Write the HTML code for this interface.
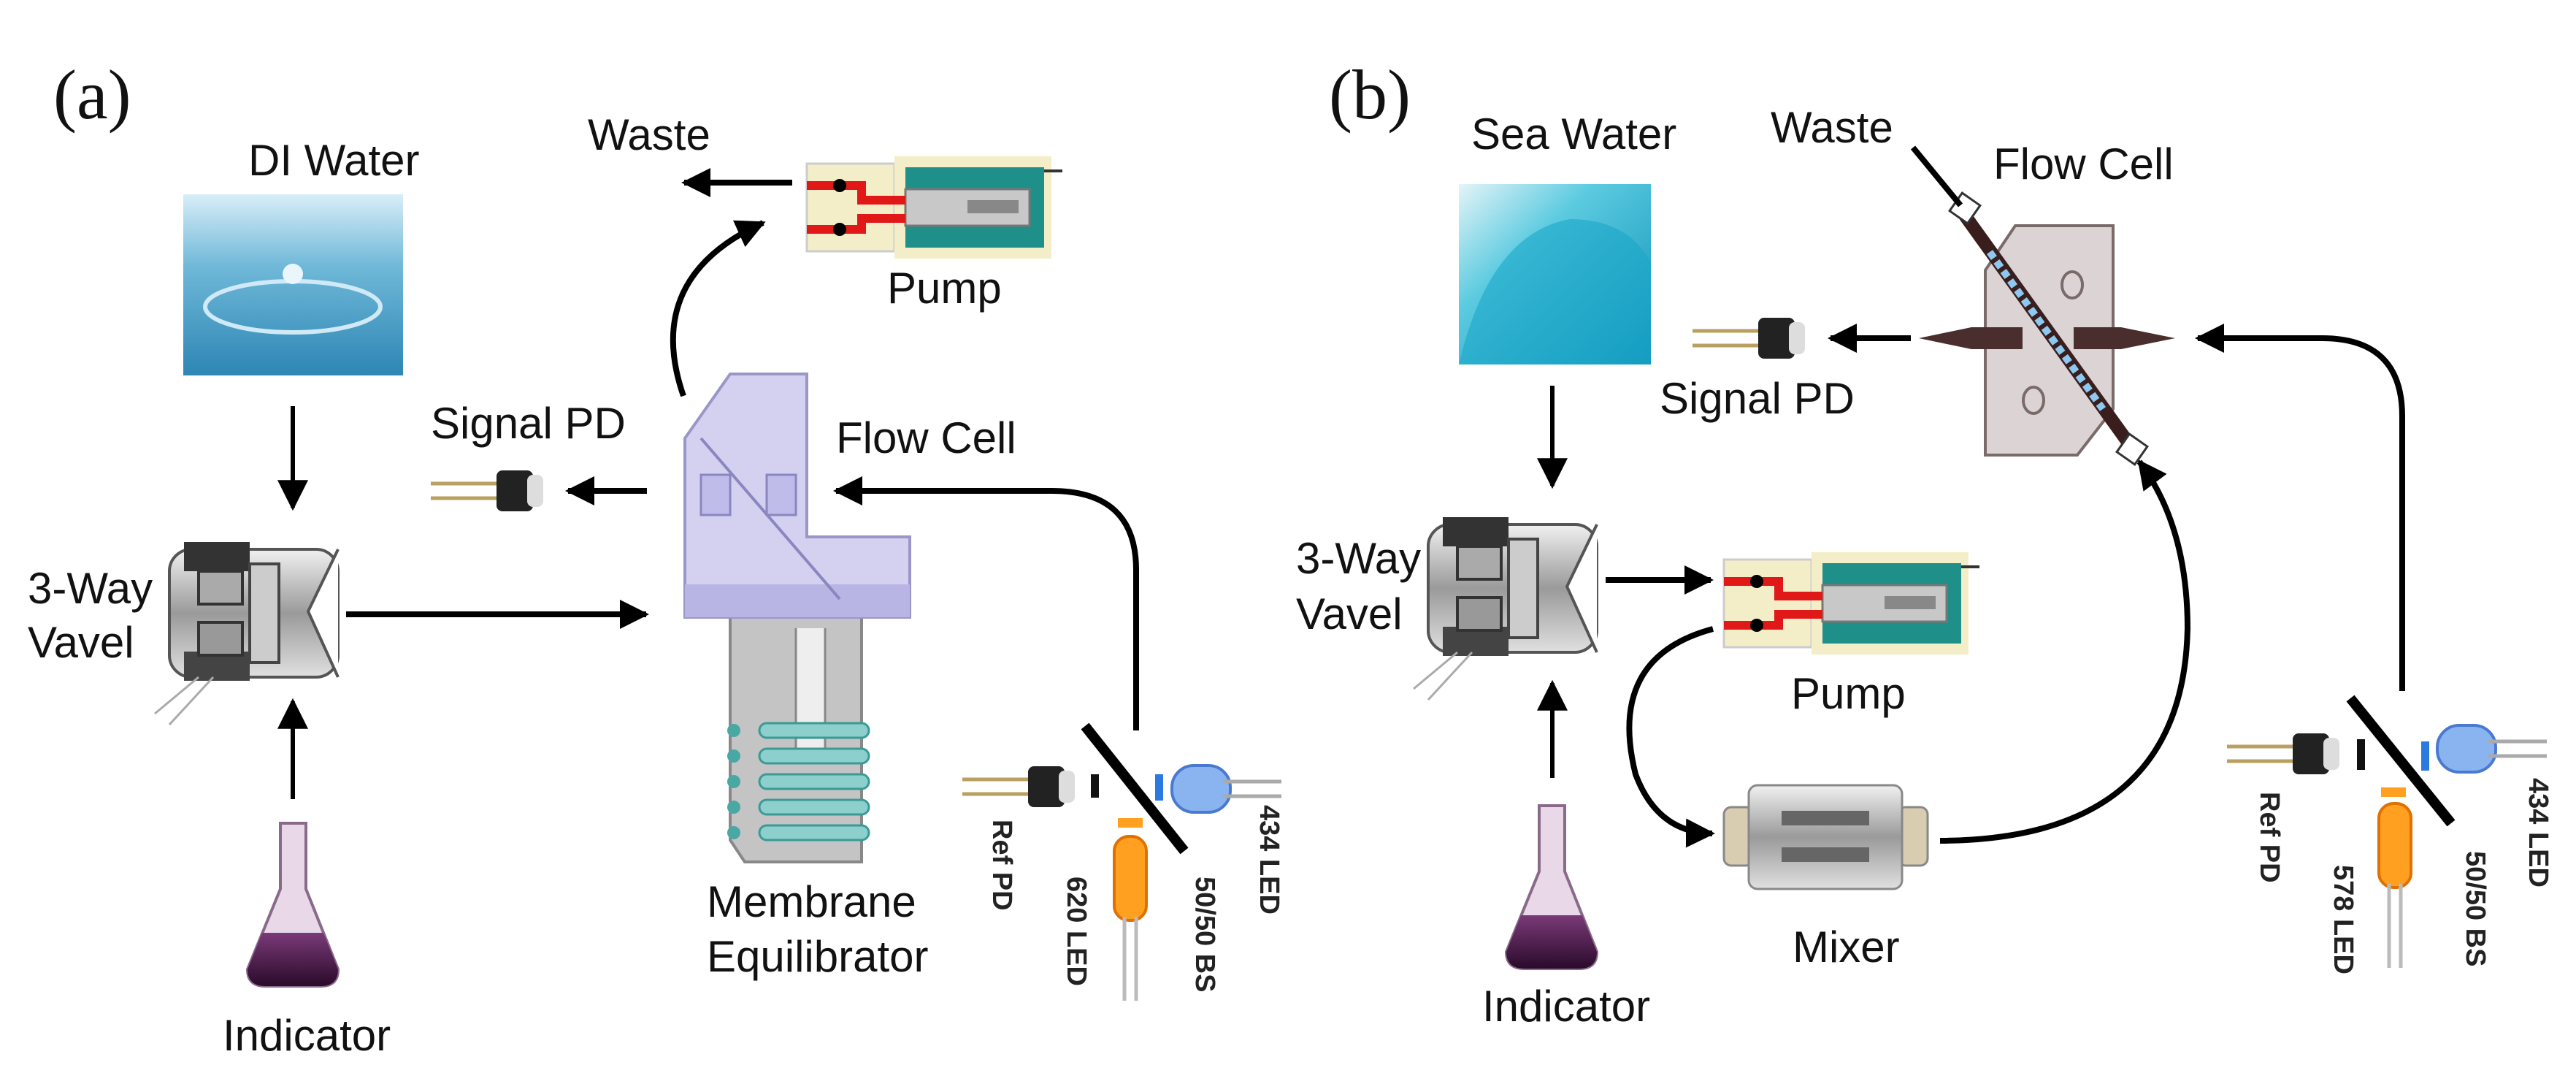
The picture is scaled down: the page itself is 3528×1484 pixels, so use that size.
<!DOCTYPE html>
<html><head><meta charset="utf-8"><style>
html,body{margin:0;padding:0;background:#fff}
svg{display:block}
text{font-family:"Liberation Sans",Arial,sans-serif;fill:#111}
.l{font-size:60px}
.s{font-family:"Liberation Serif",serif;font-size:96px}
.r{font-size:38px;font-weight:bold;fill:#222}
</style></head><body>
<svg width="3528" height="1484" viewBox="0 0 3528 1484" xmlns="http://www.w3.org/2000/svg">
<defs>
<marker id="ah" viewBox="0 0 10 10" refX="9" refY="5" markerWidth="5" markerHeight="5" orient="auto-start-reverse" markerUnits="strokeWidth">
<path d="M0,0 L10,5 L0,10 z" fill="#000"/></marker>
<marker id="ah2" viewBox="0 0 10 10" refX="9" refY="5" markerWidth="7" markerHeight="7" orient="auto" markerUnits="strokeWidth">
<path d="M0,0 L10,5 L0,10 z" fill="#000"/></marker>
<linearGradient id="wat" x1="0" y1="0" x2="0" y2="1"><stop offset="0" stop-color="#d8eef8"/><stop offset="0.4" stop-color="#6fb8d8"/><stop offset="1" stop-color="#2d86b4"/></linearGradient>
<linearGradient id="sea" x1="0" y1="0" x2="1" y2="1"><stop offset="0" stop-color="#e4f4f8"/><stop offset="0.35" stop-color="#5ccbe0"/><stop offset="1" stop-color="#0b8fb8"/></linearGradient>
<linearGradient id="met" x1="0" y1="0" x2="0" y2="1"><stop offset="0" stop-color="#f0f0f0"/><stop offset="0.5" stop-color="#9a9a9a"/><stop offset="1" stop-color="#e0e0e0"/></linearGradient>
<linearGradient id="liq" x1="0" y1="0" x2="0" y2="1"><stop offset="0" stop-color="#7a3a78"/><stop offset="1" stop-color="#2a0a2a"/></linearGradient>
<g id="valve">
<rect x="0" y="10" width="231" height="175" rx="30" fill="url(#met)" stroke="#555" stroke-width="4"/>
<rect x="20" y="0" width="90" height="40" fill="#333"/>
<rect x="20" y="150" width="90" height="40" fill="#444"/>
<rect x="40" y="40" width="60" height="45" fill="#aaa" stroke="#333" stroke-width="4"/>
<rect x="40" y="110" width="60" height="45" fill="#999" stroke="#333" stroke-width="4"/>
<rect x="110" y="30" width="40" height="135" fill="#ccc" stroke="#444" stroke-width="4"/>
<path d="M231,10 L190,95 L231,185" fill="#fff" stroke="#555" stroke-width="4"/>
<path d="M40,185 L-20,235 M60,185 L0,250" stroke="#aaa" stroke-width="3" fill="none"/>
</g>
<g id="flask">
<path d="M45,0 L80,0 L80,90 L124,200 Q124,223 100,223 L25,223 Q0,223 0,200 L45,90 Z" fill="#e8d8e8" stroke="#8a6a8a" stroke-width="4"/>
<path d="M20,150 L104,150 L124,200 Q124,223 100,223 L25,223 Q0,223 0,200 Z" fill="url(#liq)"/>
</g>
<g id="pump">
<rect x="0" y="10" width="120" height="120" fill="#f4eec8" stroke="#ccc" stroke-width="3"/>
<rect x="120" y="0" width="215" height="140" fill="#f4eec8"/>
<rect x="135" y="15" width="190" height="110" fill="#1f8f8a"/>
<rect x="135" y="45" width="170" height="50" fill="#c8c8c8" stroke="#777" stroke-width="3"/>
<rect x="220" y="60" width="70" height="18" fill="#888"/>
<path d="M0,40 L75,40 L75,60 L135,60 M0,100 L75,100 L75,85 L135,85" stroke="#e01818" stroke-width="12" fill="none"/>
<circle cx="45" cy="40" r="9" fill="#000"/><circle cx="45" cy="100" r="9" fill="#000"/>
<line x1="325" y1="20" x2="350" y2="20" stroke="#333" stroke-width="4"/>
</g>
<g id="pd">
<line x1="0" y1="-10" x2="90" y2="-10" stroke="#b8a060" stroke-width="5"/>
<line x1="0" y1="10" x2="90" y2="10" stroke="#b8a060" stroke-width="5"/>
<rect x="90" y="-28" width="50" height="56" rx="8" fill="#222"/>
<rect x="132" y="-22" width="22" height="44" rx="8" fill="#ddd"/>
</g>
<g id="bled">
<rect x="0" y="-32" width="80" height="64" rx="30" fill="#8ab4f0" stroke="#4a7ad0" stroke-width="4"/>
<line x1="70" y1="-10" x2="150" y2="-10" stroke="#aaa" stroke-width="5"/>
<line x1="70" y1="10" x2="150" y2="10" stroke="#aaa" stroke-width="5"/>
</g>
<g id="oled">
<rect x="-22" y="0" width="44" height="115" rx="20" fill="#ffa020" stroke="#e07000" stroke-width="4"/>
<line x1="-8" y1="110" x2="-8" y2="225" stroke="#bbb" stroke-width="5"/>
<line x1="8" y1="110" x2="8" y2="225" stroke="#bbb" stroke-width="5"/>
</g>
</defs>
<rect width="3528" height="1484" fill="#fff"/>

<!-- ========== (a) ========== -->
<text class="s" x="73" y="162">(a)</text>
<text class="l" x="340" y="240">DI Water</text>
<text class="l" x="805" y="205">Waste</text>
<rect x="251" y="266" width="301" height="248" fill="url(#wat)"/>
<ellipse cx="401" cy="420" rx="120" ry="35" fill="none" stroke="#cfe9f6" stroke-width="6"/>
<circle cx="401" cy="375" r="14" fill="#eaf6fc"/>
<line x1="401" y1="556" x2="401" y2="695" stroke="#000" stroke-width="6" marker-end="url(#ah2)"/>
<use href="#valve" x="232" y="742"/>
<text class="l" x="38" y="826">3-Way</text>
<text class="l" x="38" y="900">Vavel</text>
<line x1="401" y1="1094" x2="401" y2="960" stroke="#000" stroke-width="6" marker-end="url(#ah2)"/>
<use href="#flask" x="339" y="1127"/>
<text class="l" x="305" y="1438">Indicator</text>
<line x1="474" y1="841" x2="885" y2="841" stroke="#000" stroke-width="8" marker-end="url(#ah)"/>

<!-- flow cell a -->
<path d="M1000,845 L1180,845 L1180,1180 L1020,1180 L1000,1150 Z" fill="#c4c4c4" stroke="#888" stroke-width="4"/>
<path d="M1090,860 L1090,1030 Q1110,1060 1130,1030 L1130,860" fill="#eee" stroke="#888" stroke-width="3"/>
<g fill="#8ccfcc" stroke="#3a9a96" stroke-width="3">
<rect x="1040" y="990" width="150" height="20" rx="10"/>
<rect x="1040" y="1025" width="150" height="20" rx="10"/>
<rect x="1040" y="1060" width="150" height="20" rx="10"/>
<rect x="1040" y="1095" width="150" height="20" rx="10"/>
<rect x="1040" y="1130" width="150" height="20" rx="10"/>
</g>
<g fill="#4aa8a4"><circle cx="1005" cy="1000" r="9"/><circle cx="1005" cy="1035" r="9"/><circle cx="1005" cy="1070" r="9"/><circle cx="1005" cy="1105" r="9"/><circle cx="1005" cy="1140" r="9"/></g>
<path d="M938,600 L1000,512 L1105,512 L1105,735 L1246,735 L1246,845 L938,845 Z" fill="#d4d0f0" stroke="#9a96c8" stroke-width="4"/>
<rect x="938" y="800" width="308" height="45" fill="#b8b4e4"/>
<rect x="960" y="650" width="40" height="55" fill="#c0bcea" stroke="#8a86c0" stroke-width="3"/>
<rect x="1050" y="650" width="40" height="55" fill="#c0bcea" stroke="#8a86c0" stroke-width="3"/>
<line x1="960" y1="600" x2="1150" y2="820" stroke="#8a86c0" stroke-width="4"/>
<text class="l" x="968" y="1255">Membrane</text>
<text class="l" x="968" y="1330">Equilibrator</text>
<text class="l" x="590" y="600">Signal  PD</text>
<use href="#pd" x="590" y="672"/>
<line x1="886" y1="672" x2="778" y2="672" stroke="#000" stroke-width="8" marker-end="url(#ah)"/>
<text class="l" x="1145" y="620">Flow  Cell</text>
<path d="M1556,1000 L1556,780 Q1556,672 1440,672 L1145,672" fill="none" stroke="#000" stroke-width="8" marker-end="url(#ah)"/>
<line x1="1085" y1="250" x2="937" y2="250" stroke="#000" stroke-width="8" marker-end="url(#ah)"/>
<use href="#pump" x="1105" y="214"/>
<text class="l" x="1215" y="415">Pump</text>
<path d="M936,542 Q880,380 1045,305" fill="none" stroke="#000" stroke-width="8" marker-end="url(#ah)"/>
<!-- optics a -->
<use href="#pd" x="1318" y="1077"/>
<rect x="1494" y="1060" width="11" height="32" fill="#111"/>
<line x1="1486" y1="994" x2="1622" y2="1165" stroke="#000" stroke-width="14"/>
<rect x="1582" y="1060" width="11" height="36" fill="#2a7ae0"/>
<use href="#bled" x="1605" y="1080"/>
<rect x="1531" y="1120" width="34" height="13" fill="#ffa020"/>
<use href="#oled" x="1548" y="1145"/>
<text class="r" transform="translate(1360,1122) rotate(90)">Ref PD</text>
<text class="r" transform="translate(1462,1200) rotate(90)">620 LED</text>
<text class="r" transform="translate(1638,1200) rotate(90)">50/50 BS</text>
<text class="r" transform="translate(1726,1102) rotate(90)">434 LED</text>

<!-- ========== (b) ========== -->
<text class="s" x="1820" y="162">(b)</text>
<text class="l" x="2015" y="204">Sea  Water</text>
<text class="l" x="2425" y="195">Waste</text>
<text class="l" x="2730" y="245">Flow  Cell</text>
<rect x="1998" y="252" width="263" height="247" fill="url(#sea)"/>
<path d="M1998,499 Q2040,320 2150,300 Q2230,300 2261,360 L2261,499 Z" fill="#1aa6c8" opacity="0.6"/>
<line x1="2126" y1="528" x2="2126" y2="665" stroke="#000" stroke-width="6" marker-end="url(#ah2)"/>
<use href="#valve" x="1956" y="708"/>
<text class="l" x="1775" y="785">3-Way</text>
<text class="l" x="1775" y="861">Vavel</text>
<line x1="2126" y1="1065" x2="2126" y2="935" stroke="#000" stroke-width="6" marker-end="url(#ah2)"/>
<use href="#flask" x="2063" y="1103"/>
<text class="l" x="2030" y="1398">Indicator</text>
<line x1="2199" y1="794" x2="2343" y2="794" stroke="#000" stroke-width="8" marker-end="url(#ah)"/>
<use href="#pump" x="2361" y="756"/>
<text class="l" x="2453" y="970">Pump</text>
<path d="M2346,861 Q2200,900 2240,1060 Q2270,1140 2345,1141" fill="none" stroke="#000" stroke-width="8" marker-end="url(#ah)"/>
<!-- mixer -->
<rect x="2361" y="1105" width="40" height="80" rx="10" fill="#d8cdb0" stroke="#888" stroke-width="3"/>
<rect x="2600" y="1105" width="40" height="80" rx="10" fill="#d8cdb0" stroke="#888" stroke-width="3"/>
<rect x="2395" y="1075" width="210" height="142" rx="12" fill="url(#met)" stroke="#888" stroke-width="3"/>
<rect x="2440" y="1110" width="120" height="20" fill="#666"/><rect x="2440" y="1160" width="120" height="20" fill="#666"/>
<text class="l" x="2455" y="1317">Mixer</text>
<path d="M2657,1151 Q2990,1150 2996,860 Q2996,720 2930,632" fill="none" stroke="#000" stroke-width="8" marker-end="url(#ah)"/>
<!-- flow cell b -->
<path d="M2760,309 L2894,309 L2894,560 L2845,623 L2719,623 L2719,370 Z" fill="#dcd4d4" stroke="#7a6a6a" stroke-width="4"/>
<ellipse cx="2838" cy="390" rx="14" ry="18" fill="none" stroke="#7a6a6a" stroke-width="4"/>
<ellipse cx="2785" cy="548" rx="14" ry="18" fill="none" stroke="#7a6a6a" stroke-width="4"/>
<line x1="2691" y1="295" x2="2917" y2="609" stroke="#3a1e1e" stroke-width="18"/>
<line x1="2725" y1="345" x2="2880" y2="560" stroke="#8cc8f0" stroke-width="10" stroke-dasharray="10,6"/>
<rect x="2676" y="270" width="30" height="30" fill="#fff" stroke="#333" stroke-width="3" transform="rotate(35 2691 285)"/>
<rect x="2905" y="600" width="30" height="30" fill="#fff" stroke="#333" stroke-width="3" transform="rotate(35 2920 615)"/>
<path d="M2628,463 L2700,448 L2770,448 L2770,478 L2700,478 Z" fill="#4a2e2e"/>
<path d="M2979,463 L2905,448 L2840,448 L2840,478 L2905,478 Z" fill="#4a2e2e"/>
<line x1="2685" y1="281" x2="2620" y2="202" stroke="#000" stroke-width="8"/>
<line x1="2617" y1="463" x2="2507" y2="463" stroke="#000" stroke-width="8" marker-end="url(#ah)"/>
<use href="#pd" x="2318" y="463"/>
<text class="l" x="2273" y="566">Signal  PD</text>
<path d="M3290,946 L3290,570 Q3290,463 3180,463 L3010,463" fill="none" stroke="#000" stroke-width="8" marker-end="url(#ah)"/>
<!-- optics b -->
<use href="#pd" x="3050" y="1032"/>
<rect x="3228" y="1012" width="11" height="42" fill="#111"/>
<line x1="3219" y1="956" x2="3357" y2="1127" stroke="#000" stroke-width="14"/>
<rect x="3316" y="1015" width="11" height="40" fill="#2a7ae0"/>
<use href="#bled" x="3338" y="1025"/>
<rect x="3261" y="1078" width="34" height="13" fill="#ffa020"/>
<use href="#oled" x="3280" y="1100"/>
<text class="r" transform="translate(3096,1084) rotate(90)">Ref PD</text>
<text class="r" transform="translate(3197,1184) rotate(90)">578 LED</text>
<text class="r" transform="translate(3378,1165) rotate(90)">50/50 BS</text>
<text class="r" transform="translate(3464,1065) rotate(90)">434 LED</text>
</svg>
</body></html>
